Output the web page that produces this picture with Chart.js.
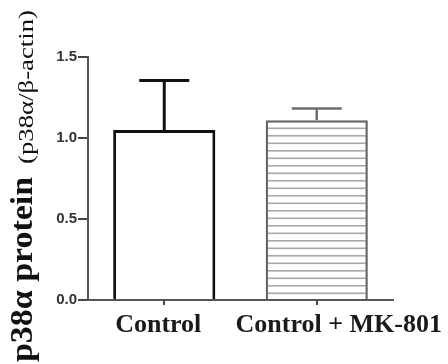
<!DOCTYPE html>
<html>
<head>
<meta charset="utf-8">
<script src="https://cdn.jsdelivr.net/npm/chart.js@4.4.1/dist/chart.umd.min.js"></script>
<style>
  html, body { margin: 0; padding: 0; background: #fff; }
  #wrap { width: 448px; height: 364px; }
</style>
</head>
<body>
<div id="wrap"><canvas id="myChart" width="448" height="364"></canvas></div>
<script>
// data
var groups = ['Control', 'Control + MK-801'];
var means = [1.05, 1.11];
var sems = [0.305, 0.072];
var yTicks = [0, 0.5, 1.0, 1.5];

var serif = '"Liberation Serif", "Times New Roman", serif';
var sans = '"Liberation Sans", Arial, sans-serif';

// horizontal stripes for the MK-801 bar
function stripes() {
    var c = document.createElement('canvas');
    c.width = 8;
    c.height = 15;
    var g = c.getContext('2d');
    g.fillStyle = '#fff';
    g.fillRect(0, 0, 8, 15);
    g.fillStyle = '#a8a8a8';
    g.fillRect(0, 0, 8, 1.6);
    g.fillRect(0, 7.5, 8, 1.6);
    return g.createPattern(c, 'repeat');
}

var errorBars = {
    id: 'errorBars',
    afterDatasetsDraw: function(chart) {
        var meta = chart.getDatasetMeta(0);
        var y = chart.scales.y;
        var ctx = chart.ctx;
        var cols = ['#111', '#6e6e6e'];
        var widths = [3, 2.5];
        ctx.save();
        meta.data.forEach(function(bar, i) {
            var top = y.getPixelForValue(means[i] + sems[i]);
            ctx.strokeStyle = cols[i];
            ctx.lineWidth = widths[i];
            ctx.beginPath();
            ctx.moveTo(bar.x, bar.y);
            ctx.lineTo(bar.x, top);
            ctx.moveTo(bar.x - 25, top);
            ctx.lineTo(bar.x + 25, top);
            ctx.stroke();
        });
        ctx.restore();
    }
};

// category names sit a little off-centre in the figure, so draw them here
var xLabels = {
    id: 'xLabels',
    afterDraw: function(chart) {
        var x = chart.scales.x;
        var ctx = chart.ctx;
        var shift = [-6, 22];
        ctx.save();
        ctx.fillStyle = '#1a1a1a';
        ctx.font = 'bold 26px ' + serif;
        ctx.textAlign = 'center';
        ctx.textBaseline = 'middle';
        groups.forEach(function(name, i) {
            ctx.fillText(name, x.getPixelForTick(i) + shift[i], x.top + 25);
        });
        ctx.restore();
    }
};

// rotated y title, big bold part + small part
var yTitle = {
    id: 'yTitle',
    afterDraw: function(chart) {
        var ctx = chart.ctx;
        ctx.save();
        ctx.fillStyle = '#111';
        ctx.textBaseline = 'alphabetic';
        ctx.textAlign = 'left';

        ctx.save();
        ctx.translate(32, 362);
        ctx.rotate(-Math.PI / 2);
        ctx.font = 'bold 32px ' + serif;
        var big = 'p38\u03b1 protein';
        var w = ctx.measureText(big).width;
        ctx.scale(185 / w, 1);
        ctx.fillText(big, 0, 0);
        ctx.restore();

        ctx.save();
        ctx.translate(33, 164);
        ctx.rotate(-Math.PI / 2);
        ctx.font = '20px ' + serif;
        var small = '(p38\u03b1/\u03b2-actin)';
        var w2 = ctx.measureText(small).width;
        ctx.scale(154 / w2, 1);
        ctx.fillText(small, 0, 0);
        ctx.restore();

        ctx.restore();
    }
};

var config = {
    type: 'bar',
    data: {
        labels: groups,
        datasets: [{
            data: means,
            backgroundColor: ['#fff', stripes()],
            borderColor: ['#111', '#666'],
            borderWidth: [3, 2.5],
            barPercentage: 0.67,
            categoryPercentage: 1
        }]
    },
    options: {
        responsive: false,
        animation: false,
        layout: { padding: { top: 57, right: 55, left: 0, bottom: 0 } },
        plugins: { legend: { display: false }, tooltip: { enabled: false } },
        scales: {
            x: {
                offset: true,
                grid: { display: true, offset: false, drawOnChartArea: false, tickLength: 5, color: '#444', lineWidth: 2 },
                border: { display: true, color: '#555', width: 2 },
                ticks: {
                    color: 'rgba(0,0,0,0)',
                    padding: 4,
                    autoSkip: false,
                    maxRotation: 0,
                    minRotation: 0,
                    font: { family: serif, size: 26, weight: 'bold' }
                },
                afterFit: function(s) { s.height = 64; }
            },
            y: {
                min: 0,
                max: 1.5,
                afterBuildTicks: function(s) {
                    s.ticks = yTicks.map(function(v) { return { value: v }; });
                },
                grid: { display: true, drawOnChartArea: false, tickLength: 10, color: '#444', lineWidth: 2 },
                border: { display: true, color: '#555', width: 2 },
                ticks: {
                    color: '#333',
                    padding: 1,
                    font: { family: sans, size: 15, weight: 'bold' },
                    callback: function(v) { return v.toFixed(1); }
                },
                afterFit: function(s) { s.width = 88; }
            }
        }
    },
    plugins: [errorBars, xLabels, yTitle]
};

new Chart(document.getElementById('myChart').getContext('2d'), config);
</script>
</body>
</html>
